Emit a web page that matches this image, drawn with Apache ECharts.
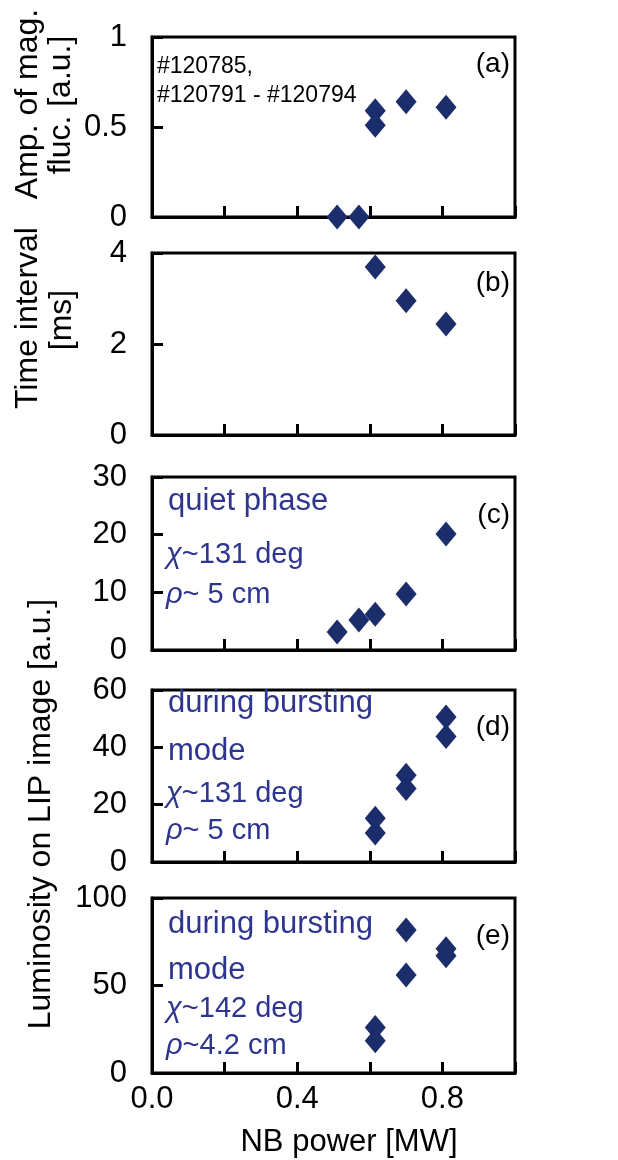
<!DOCTYPE html>
<html>
<head>
<meta charset="utf-8">
<script src="https://cdn.jsdelivr.net/npm/echarts@6/dist/echarts.min.js"></script>
<style>
  html, body { margin: 0; padding: 0; background: #fff; }
  #chart { width: 618px; height: 1160px; }
</style>
</head>
<body>
<div id="chart"></div>
<script>
// NB power [MW] and measured quantities for each panel
const ampPower = [0.51, 0.57, 0.615, 0.615, 0.70, 0.81];
const ampValue = [0, 0, 0.59, 0.51, 0.64, 0.61];

const intervalPower = [0.615, 0.70, 0.81];
const intervalValue = [3.69, 2.95, 2.44];

const quietPower = [0.51, 0.57, 0.615, 0.70, 0.81];
const quietValue = [3.1, 5.2, 6.2, 9.7, 20.1];

const burst131Power = [0.615, 0.615, 0.70, 0.70, 0.81, 0.81];
const burst131Value = [15.3, 10.1, 30.3, 25.6, 50.6, 43.8];

const burst142Power = [0.615, 0.615, 0.70, 0.70, 0.81, 0.81];
const burst142Value = [26.0, 18.5, 81.7, 56.0, 71.0, 67.0];

// y-axis ranges: [min, max, interval]
const yRanges = [[0, 1, 0.5], [0, 4, 2], [0, 30, 10], [0, 60, 20], [0, 100, 50]];
const panelTags = ['(a)', '(b)', '(c)', '(d)', '(e)'];
const xTickLabels = ['0.0', '0.4', '0.8'];

const FONT = '"Liberation Sans", Arial, Helvetica, sans-serif';
const MARK = '#1c2d6b';
const NOTE = '#2e3590';

const grids = [
  { top: 37, height: 180 },
  { top: 253, height: 182 },
  { top: 477, height: 173 },
  { top: 690, height: 172 },
  { top: 898, height: 175 }
].map(g => ({
  left: 152, right: 103, top: g.top, height: g.height,
  show: true, borderColor: '#000', borderWidth: 3, backgroundColor: 'transparent'
}));

const zip = (xs, ys) => xs.map((x, i) => [x, ys[i]]);
const seriesData = [
  zip(ampPower, ampValue),
  zip(intervalPower, intervalValue),
  zip(quietPower, quietValue),
  zip(burst131Power, burst131Value),
  zip(burst142Power, burst142Value)
];

const tickStyle = { show: true, inside: true, length: 11, lineStyle: { color: '#000', width: 3 } };

const xAxes = grids.map((g, i) => {
  const last = i === grids.length - 1;
  return {
    type: 'value', gridIndex: i, min: 0, max: 1, interval: 0.2,
    axisLine: { show: true, lineStyle: { color: '#000', width: 3 } },
    axisTick: tickStyle,
    splitLine: { show: false },
    axisLabel: {
      show: last, margin: 11, color: '#000', fontFamily: FONT, fontSize: 31,
      showMinLabel: true, showMaxLabel: true,
      formatter: v => {
        const s = v.toFixed(1);
        return xTickLabels.indexOf(s) >= 0 ? s : '';
      }
    },
    name: last ? 'NB power [MW]' : '',
    nameLocation: 'middle', nameGap: 54,
    nameTextStyle: { color: '#000', fontFamily: FONT, fontSize: 31, padding: [0, 0, 0, 31] }
  };
});

const yAxes = yRanges.map((r, i) => ({
  type: 'value', gridIndex: i, min: r[0], max: r[1], interval: r[2],
  axisLine: { show: true, lineStyle: { color: '#000', width: 3 } },
  axisTick: tickStyle,
  splitLine: { show: false },
  axisLabel: {
    margin: 25, color: '#000', fontFamily: FONT, fontSize: 31,
    showMinLabel: true, showMaxLabel: true
  }
}));

const series = seriesData.map((d, i) => ({
  type: 'scatter', xAxisIndex: i, yAxisIndex: i,
  symbol: 'diamond', symbolSize: [21, 25],
  itemStyle: { color: MARK, opacity: 1 },
  data: d
}));

// Text helpers for axis titles and in-panel notes
const rotText = (text, x, y, size) => ({
  type: 'text', x, y, rotation: Math.PI / 2,
  style: { text, x: 0, y: 0, align: 'center', verticalAlign: 'middle',
           fill: '#000', font: size + 'px ' + FONT }
});
const note = (text, x, y, size, color, align) => ({
  type: 'text', x, y,
  style: {
    text, x: 0, y: 0, align: align || 'left', verticalAlign: 'middle',
    fill: color, font: size + 'px ' + FONT,
    rich: { i: { fontStyle: 'italic', fontSize: size, fontFamily: FONT, fill: color } }
  }
});

const tagY = [64, 283, 515, 727, 936];
const graphics = [
  rotText('Amp. of mag.', 28, 104, 32),
  rotText('fluc. [a.u.]', 61, 105, 32),
  rotText('Time interval', 28, 318, 32),
  rotText('[ms]', 62, 320, 32),
  rotText('Luminosity on LIP image [a.u.]', 41, 814, 32),

  note('#120785,', 157, 67, 23, '#000'),
  note('#120791 - #120794', 157, 96, 23, '#000'),

  note('quiet phase', 168, 501, 31, NOTE),
  note('{i|χ}~131 deg', 166, 555, 29, NOTE),
  note('{i|ρ}~ 5 cm', 166, 595, 29, NOTE),

  note('during bursting', 168, 703, 31, NOTE),
  note('mode', 168, 751, 31, NOTE),
  note('{i|χ}~131 deg', 166, 794, 29, NOTE),
  note('{i|ρ}~ 5 cm', 166, 831, 29, NOTE),

  note('during bursting', 168, 924, 31, NOTE),
  note('mode', 168, 970, 31, NOTE),
  note('{i|χ}~142 deg', 166, 1009, 29, NOTE),
  note('{i|ρ}~4.2 cm', 166, 1046, 29, NOTE)
].concat(panelTags.map((t, i) => note(t, 510, tagY[i], 28, '#000', 'right')));

const chart = echarts.init(document.getElementById('chart'), null, { renderer: 'canvas' });
chart.setOption({
  animation: false,
  backgroundColor: '#fff',
  grid: grids,
  xAxis: xAxes,
  yAxis: yAxes,
  series: series,
  graphic: graphics
});
</script>
</body>
</html>
